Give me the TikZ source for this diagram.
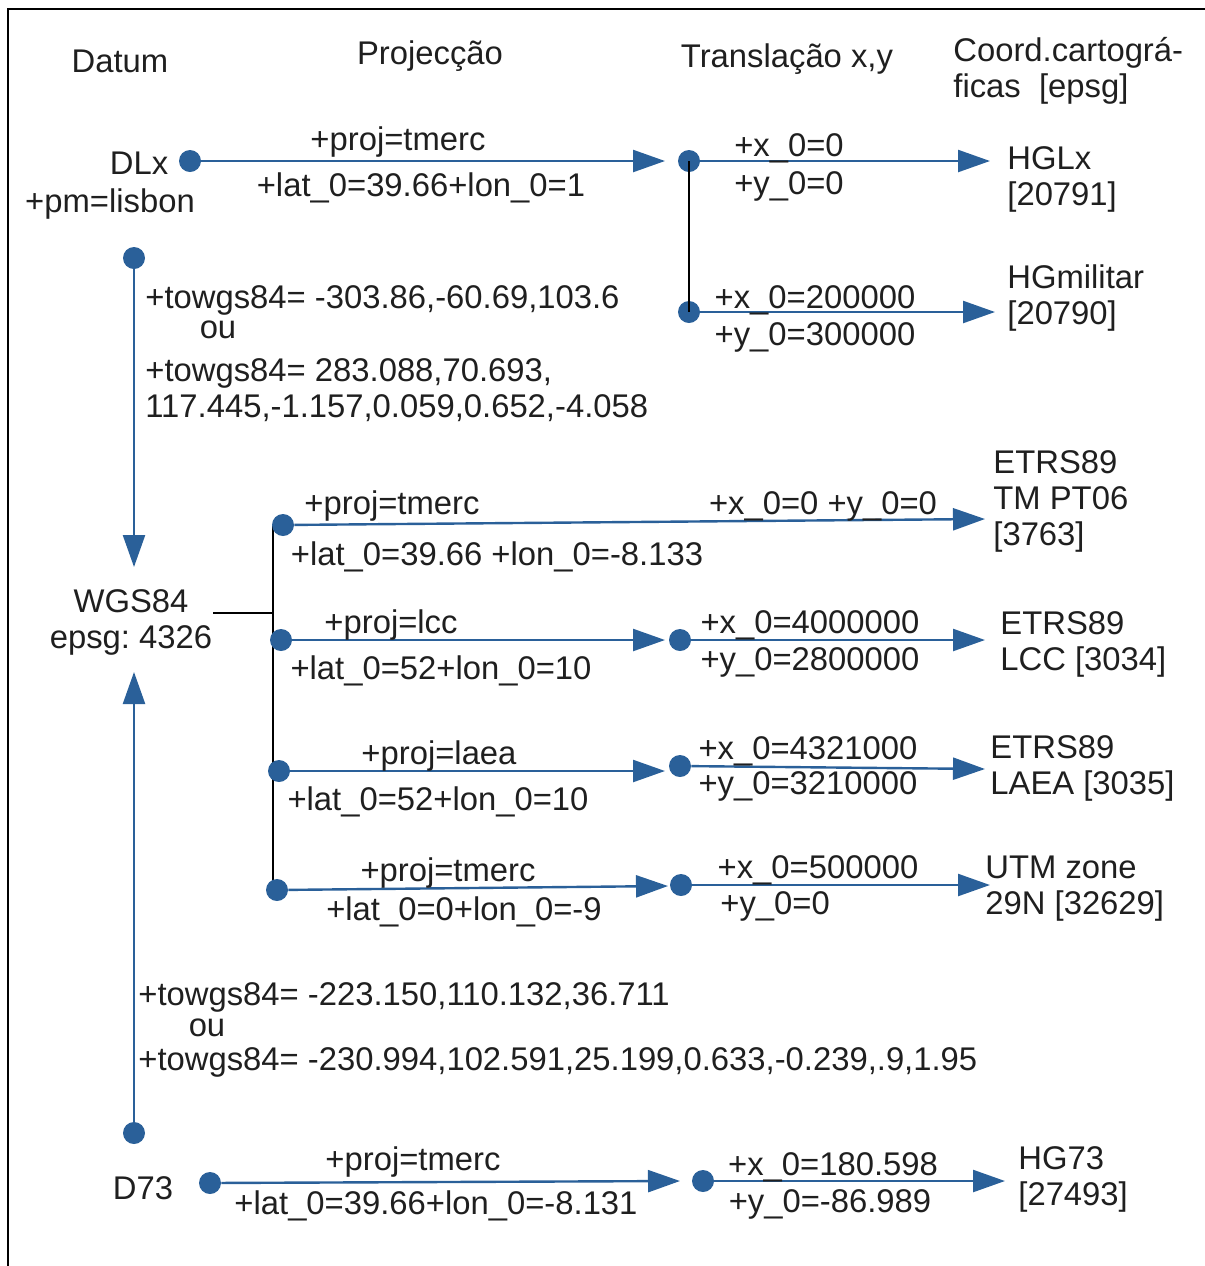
\documentclass[tikz,border=0pt]{standalone}
\usepackage{fontspec}
\setmainfont{Liberation Sans}
\usetikzlibrary{arrows.meta}
\definecolor{LO_Blue}{HTML}{2A6099}
\frenchspacing

\begin{document}
\begin{tikzpicture}[
    x=0.5pt, y=-0.5pt,
    >={Triangle[length=16pt, width=11pt]},
    txt/.style={
        font=\fontsize{16.4}{18}\selectfont,
        text=black!88,
        inner sep=0pt,
        anchor=base
    },
    txtl/.style={txt, anchor=base west, align=left},
    dot/.style={circle, fill=LO_Blue, inner sep=0pt, minimum size=11pt},
    link/.style={draw=LO_Blue, line width=1.2pt, ->},
    bus/.style={draw=black, line width=1.2pt}
]
\useasboundingbox (0,0) rectangle (1205,1266);
\draw[line width=1pt] (8,1266) -- (8,9) -- (1205,9);

% headers
\node[txt] (hDatum) at (120,72) {Datum};
\node[txt] (hProj) at (430,64) {Projecção};
\node[txt] (hTrans) at (787,67) {Translação x,y};
\node[txtl] (hCoord) at (953,97) {Coord.cartográ-\\ficas~~[epsg]};

% DLx
\node[txt] (DLx) at (139,174) {DLx};
\node[txt] (pm) at (110,212) {+pm=lisbon};
\node[dot] (dlx) at (190,161) {};
\coordinate (dlxP) at (665,161);
\node[dot] (dlxT) at (689,161) {};
\node[dot] (dlxM) at (689,312) {};
\coordinate (hglxA) at (990,161);
\coordinate (hgmilA) at (995,312);
\draw[link] (dlx) -- (dlxP);
\draw[bus] (dlxT.center) -- (dlxM.center);
\draw[link] (dlxT) -- (hglxA);
\draw[link] (dlxM) -- (hgmilA);
\node[txt] (pTm1) at (398,150) {+proj=tmerc};
\node[txt] (lat1) at (421,196) {+lat\_0=39.66+lon\_0=1};
\node[txt] (x1) at (789,156) {+x\_0=0};
\node[txt] (y1) at (789,194) {+y\_0=0};
\node[txt] (x2) at (815,308) {+x\_0=200000};
\node[txt] (y2) at (815,345) {+y\_0=300000};
\node[txtl] (HGLx) at (1007,205) {HGLx\\{[20791]}};
\node[txtl] (HGmil) at (1007,324) {HGmilitar\\{[20790]}};

% DLx -> WGS84
\node[dot] (dlxW) at (134,258) {};
\coordinate (wgsN) at (134,567);
\draw[link] (dlxW) -- (wgsN);
\node[txtl] (tw1) at (145,308) {+towgs84= -303.86,-60.69,103.6};
\node[txt] (ou1) at (218,338) {ou};
\node[txtl] (tw2) at (145,417) {+towgs84= 283.088,70.693,\\117.445,-1.157,0.059,0.652,-4.058};

% WGS84
\node[txt, align=center] (WGS) at (131,648) {WGS84\\epsg: 4326};
\coordinate (wgsE) at (213,613);
\coordinate (wgsJ) at (273,613);
\coordinate (busTop) at (273,525);
\coordinate (busBot) at (273,890);
\draw[bus] (wgsE) -- (wgsJ);
\draw[bus] (busTop) -- (busBot);

% TM PT06
\node[dot] (tm) at (283,525) {};
\coordinate (tmA) at (985,519);
\draw[link] (tm) -- (tmA);
\node[txt] (pTm2) at (392,514) {+proj=tmerc};
\node[txt] (xy3) at (823,514) {+x\_0=0 +y\_0=0};
\node[txt] (lat2) at (497,565) {+lat\_0=39.66 +lon\_0=-8.133};
\node[txtl] (PT06) at (993,545) {ETRS89\\TM PT06\\{[3763]}};

% LCC
\node[dot] (lcc) at (281,640) {};
\coordinate (lccP) at (665,640);
\node[dot] (lccT) at (680,640) {};
\coordinate (lccA) at (985,640);
\draw[link] (lcc) -- (lccP);
\draw[link] (lccT) -- (lccA);
\node[txt] (pLcc) at (391,633) {+proj=lcc};
\node[txt] (lat3) at (441,679) {+lat\_0=52+lon\_0=10};
\node[txt] (x4) at (810,633) {+x\_0=4000000};
\node[txt] (y4) at (810,670) {+y\_0=2800000};
\node[txtl] (LCC) at (1000,670) {ETRS89\\LCC [3034]};

% LAEA
\node[dot] (laea) at (279,771) {};
\coordinate (laeaP) at (665,771);
\node[dot] (laeaT) at (680,766) {};
\coordinate (laeaA) at (985,769);
\draw[link] (laea) -- (laeaP);
\draw[link] (laeaT) -- (laeaA);
\node[txt] (pLaea) at (439,764) {+proj=laea};
\node[txt] (lat4) at (438,810) {+lat\_0=52+lon\_0=10};
\node[txt] (x5) at (808,759) {+x\_0=4321000};
\node[txt] (y5) at (808,794) {+y\_0=3210000};
\node[txtl] (LAEA) at (990,794) {ETRS89\\LAEA [3035]};

% UTM
\node[dot] (utm) at (277,890) {};
\coordinate (utmP) at (668,886);
\node[dot] (utmT) at (681,885) {};
\coordinate (utmA) at (990,885);
\draw[link] (utm) -- (utmP);
\draw[link] (utmT) -- (utmA);
\node[txt] (pTm3) at (448,881) {+proj=tmerc};
\node[txt] (lat5) at (464,920) {+lat\_0=0+lon\_0=-9};
\node[txt] (x6) at (818,878) {+x\_0=500000};
\node[txtl] (y6) at (720,914) {+y\_0=0};
\node[txtl] (UTM) at (985,914) {UTM zone\\29N [32629]};

% D73 -> WGS84
\node[dot] (d73W) at (134,1133) {};
\coordinate (wgsS) at (134,672);
\draw[link] (d73W) -- (wgsS);
\node[txtl] (tw3) at (138,1005) {+towgs84= -223.150,110.132,36.711};
\node[txt] (ou2) at (207,1036) {ou};
\node[txtl] (tw4) at (138,1070) {+towgs84= -230.994,102.591,25.199,0.633,-0.239,.9,1.95};

% D73
\node[txt] (D73) at (143,1199) {D73};
\node[dot] (d73) at (210,1183) {};
\coordinate (d73P) at (680,1181);
\node[dot] (d73T) at (703,1181) {};
\coordinate (hg73A) at (1005,1181);
\draw[link] (d73) -- (d73P);
\draw[link] (d73T) -- (hg73A);
\node[txt] (pTm4) at (413,1170) {+proj=tmerc};
\node[txt] (lat6) at (436,1214) {+lat\_0=39.66+lon\_0=-8.131};
\node[txt] (x7) at (833,1175) {+x\_0=180.598};
\node[txt] (y7) at (830,1212) {+y\_0=-86.989};
\node[txtl] (HG73) at (1018,1205) {HG73\\{[27493]}};

\end{tikzpicture}
\end{document}
